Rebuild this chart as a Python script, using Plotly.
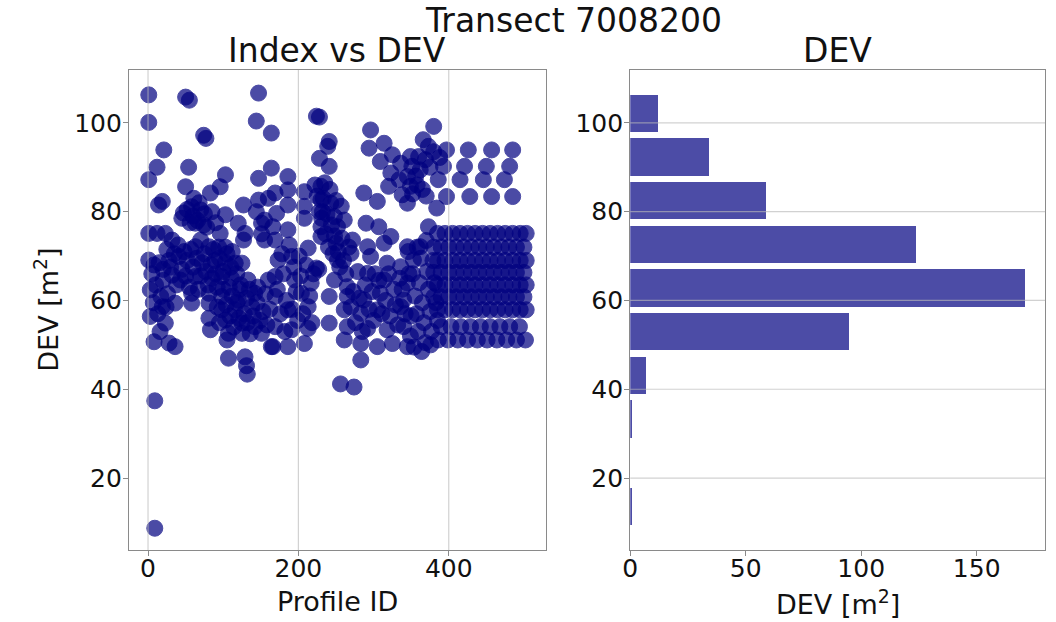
import plotly.graph_objects as go

# ---------------- data ----------------
# Left panel: (profile id, DEV) points, grouped by region of the plot
points_0_165 = [
    (1, 106.3), (50, 105.8), (55, 105.1), (147, 106.7), (1, 100.1), (144, 100.4),
    (74, 97.2), (77, 96.5), (164, 97.7), (21, 93.9), (12, 90.0), (54, 90.0), (164, 89.8),
    (103, 88.3), (1, 87.2), (147, 87.5), (50, 85.6), (96, 85.6), (83, 84.2),
    (19, 82.3), (14, 81.5), (61, 83.0), (127, 81.5), (147, 82.6), (160, 83.0),
    (47, 79.7), (58, 81.1), (70, 80.4), (103, 79.3), (144, 80.0), (155, 78.1),
    (63, 77.4), (120, 77.4), (74, 77.0), (151, 77.4),
    (1, 75.1), (12, 75.1), (23, 75.1), (96, 75.1), (129, 75.1), (151, 75.0),
    (127, 73.6), (32, 73.6), (70, 73.6), (155, 73.6),
    (63, 72.1), (81, 72.1), (94, 72.0), (103, 72.0),
    (1, 69.1), (8, 68.0), (28, 69.0), (41, 69.9), (52, 69.0), (72, 68.5), (89, 69.0),
    (103, 68.5), (116, 68.4), (125, 68.4),
    (32, 65.7), (43, 64.6), (63, 65.4), (85, 65.0), (98, 65.4), (111, 65.0), (133, 64.6), (160, 64.6),
    (3, 62.4), (17, 60.9), (58, 61.6), (81, 61.6), (98, 60.9), (120, 60.1), (142, 61.6),
    (19, 58.6), (36, 59.4), (58, 59.4), (81, 59.4), (98, 57.9), (116, 57.9), (138, 58.6),
    (3, 56.4), (23, 54.9), (81, 56.0), (103, 55.6), (125, 54.9), (142, 54.1),
    (83, 53.4), (107, 52.6), (125, 52.6), (151, 52.6),
    (8, 50.7), (28, 50.4), (36, 49.6), (105, 51.1), (164, 49.6),
    (107, 47.0), (129, 47.3), (131, 45.3), (132, 43.4), (9, 37.4), (9, 8.7),
    # dense areas
    (45, 78.5), (52, 80.5), (56, 77.5), (60, 79.0), (66, 78.0), (68, 82.0), (75, 79.5),
    (78, 76.5), (85, 80.0), (90, 77.5),
    (20, 67.0), (25, 71.5), (30, 67.5), (35, 70.5), (38, 63.5), (40, 72.5), (45, 67.0),
    (48, 71.0), (50, 65.5), (55, 63.0), (57, 71.5), (60, 67.5), (65, 69.5), (67, 62.5),
    (70, 65.5), (75, 70.5), (77, 66.5), (80, 63.5), (84, 68.0), (87, 71.5), (90, 66.0),
    (92, 63.0), (95, 69.5), (100, 66.5), (105, 70.5), (108, 63.0), (112, 71.0), (118, 66.0),
    (122, 62.5), (110, 67.5),
    (92, 58.5), (95, 55.0), (100, 62.5), (104, 59.0), (109, 56.5), (112, 61.0), (114, 54.0),
    (118, 59.5), (121, 56.0), (123, 63.5), (128, 57.0), (131, 60.5), (132, 55.0), (135, 62.5),
    (136, 52.5), (140, 56.5), (145, 59.5), (146, 63.0), (149, 55.5), (153, 57.5), (156, 61.5),
    (158, 54.5), (162, 58.0),
    (5, 66.0), (7, 59.5), (10, 63.5), (13, 57.0), (15, 68.5), (16, 53.0), (20, 64.5),
    (24, 58.5), (26, 61.5),
]

points_166_350 = [
    (224, 101.5), (228, 101.3), (296, 98.4),
    (241, 95.8), (294, 94.3), (314, 95.4), (239, 94.7),
    (228, 92.0), (241, 90.2), (309, 91.3), (325, 92.8), (336, 90.9), (349, 92.4),
    (186, 87.9), (323, 88.7), (334, 87.2), (345, 87.9),
    (169, 84.2), (186, 84.9), (208, 84.5), (230, 85.7), (287, 84.2), (320, 85.7), (345, 81.9), (338, 83.8),
    (186, 81.5), (208, 81.2), (230, 82.7), (243, 81.9), (257, 81.2), (305, 82.3),
    (171, 79.6), (208, 78.5), (232, 80.0), (248, 78.9), (261, 78.1),
    (166, 76.6), (186, 75.9), (230, 76.6), (252, 76.6), (290, 77.4), (307, 76.6), (323, 74.4),
    (169, 73.6), (213, 71.8), (230, 74.4), (250, 72.9), (272, 73.6), (292, 72.1), (314, 72.9), (345, 72.1),
    (173, 69.1), (191, 69.9), (224, 67.3), (227, 67.0), (252, 69.1), (270, 70.6), (296, 69.9),
    (318, 68.4), (336, 67.6),
    (169, 65.4), (195, 64.6), (217, 63.9), (248, 64.6), (265, 63.1), (292, 66.1), (314, 64.6), (345, 63.9),
    (169, 60.9), (204, 61.6), (241, 60.9), (265, 60.9), (287, 60.1), (309, 61.6), (340, 60.1),
    (186, 57.9), (213, 58.6), (261, 57.9), (283, 57.1), (305, 57.9), (336, 58.6),
    (169, 54.1), (191, 53.4), (213, 53.7), (241, 54.9), (265, 54.1), (292, 53.7), (318, 53.4), (340, 54.1),
    (166, 49.6), (186, 49.6), (208, 50.3), (261, 51.1), (283, 50.3), (305, 49.6), (325, 50.3), (345, 49.6),
    (283, 46.6), (256, 41.2), (274, 40.5),
    # dense areas
    (222, 86.0), (225, 83.5), (228, 80.0), (231, 78.5), (233, 83.0), (235, 86.5), (236, 75.0),
    (238, 79.5), (240, 72.0), (242, 85.0), (244, 77.0), (246, 70.5), (248, 74.5), (250, 82.5),
    (253, 71.0), (255, 67.5), (258, 74.0), (260, 69.0), (263, 66.0), (267, 72.0),
    (172, 62.5), (176, 57.0), (178, 70.5), (180, 66.0), (182, 53.0), (184, 60.0), (188, 72.5),
    (192, 58.0), (194, 67.5), (197, 62.0), (199, 55.5), (201, 70.0), (203, 65.5), (206, 57.0),
    (210, 68.0), (215, 61.0), (218, 55.0), (220, 66.0),
    (270, 58.5), (273, 62.0), (276, 55.0), (279, 66.5), (281, 60.5), (285, 53.0), (289, 63.5),
    (294, 58.0), (298, 62.0), (300, 55.5), (302, 66.0), (307, 64.5), (311, 57.0), (316, 60.0),
    (320, 66.0), (322, 56.5), (327, 62.5), (329, 59.0), (332, 54.5), (335, 65.0), (338, 62.5),
    (342, 57.0), (347, 66.0), (349, 52.0),
]

points_351_504 = [
    # upper diagonal cluster
    (380, 99.2), (366, 96.2), (373, 94.7), (360, 92.4), (369, 91.7), (380, 93.5), (351, 90.2),
    (362, 89.4), (349, 85.7), (384, 80.8), (373, 76.6), (362, 72.1), (353, 69.1), (356, 88.0),
    (358, 86.0), (365, 85.0), (370, 83.5), (375, 90.0), (352, 84.0), (388, 92.2),
    # upper regular block
    (397, 93.9), (426, 93.9), (457, 93.9), (485, 93.9),
    (393, 90.2), (421, 90.2), (450, 90.2), (481, 90.2),
    (386, 87.2), (415, 87.2), (446, 87.2), (474, 87.2),
    (397, 83.4), (428, 83.4), (457, 83.4), (485, 83.4),
    # dense left part
    (352, 66.0), (355, 61.0), (357, 57.0), (359, 53.0), (361, 64.0), (363, 69.5), (365, 59.5),
    (367, 55.0), (369, 50.5), (371, 66.5), (373, 62.5), (375, 57.5), (377, 53.0), (379, 69.0),
    (381, 64.0), (383, 59.5), (385, 55.5), (354, 49.5), (358, 72.0), (364, 48.5), (370, 73.5),
    (376, 50.0), (350, 56.5), (346, 71.0),
    # lower regular block
    (385, 75.1), (395, 75.1), (405, 75.1), (415, 75.1), (425, 75.1), (435, 75.1), (445, 75.1),
    (455, 75.1), (465, 75.1), (475, 75.1), (485, 75.1), (495, 75.1), (503, 75.1),
    (380, 72.0), (390, 72.0), (400, 72.0), (410, 72.0), (420, 72.0), (430, 72.0), (440, 72.0),
    (450, 72.0), (460, 72.0), (470, 72.0), (480, 72.0), (490, 72.0), (500, 72.0),
    (385, 69.0), (395, 69.0), (405, 69.0), (415, 69.0), (425, 69.0), (435, 69.0), (445, 69.0),
    (455, 69.0), (465, 69.0), (475, 69.0), (485, 69.0), (495, 69.0), (503, 69.0),
    (380, 66.3), (390, 66.3), (400, 66.3), (410, 66.3), (420, 66.3), (430, 66.3), (440, 66.3),
    (450, 66.3), (460, 66.3), (470, 66.3), (480, 66.3), (490, 66.3), (500, 66.3),
    (385, 63.5), (395, 63.5), (405, 63.5), (415, 63.5), (425, 63.5), (435, 63.5), (445, 63.5),
    (455, 63.5), (465, 63.5), (475, 63.5), (485, 63.5), (495, 63.5), (503, 63.5),
    (380, 60.8), (390, 60.8), (400, 60.8), (410, 60.8), (420, 60.8), (430, 60.8), (440, 60.8),
    (450, 60.8), (460, 60.8), (470, 60.8), (480, 60.8), (490, 60.8), (500, 60.8),
    (385, 57.9), (395, 57.9), (405, 57.9), (415, 57.9), (425, 57.9), (435, 57.9), (445, 57.9),
    (455, 57.9), (465, 57.9), (475, 57.9), (485, 57.9), (495, 57.9), (503, 57.9),
    (390, 54.1), (403, 54.1), (416, 54.1), (429, 54.1), (442, 54.1), (455, 54.1), (468, 54.1),
    (481, 54.1), (494, 54.1),
    (386, 51.1), (399, 51.1), (412, 51.1), (425, 51.1), (438, 51.1), (451, 51.1), (464, 51.1),
    (477, 51.1), (490, 51.1), (502, 51.1),
]

# Right panel: histogram of DEV (bin centres and counts)
dev_bin_centers = [13.6, 23.5, 33.3, 43.1, 53.0, 62.8, 72.6, 82.5, 92.3, 102.1]
dev_counts = [1, 0, 1, 7, 95, 171, 124, 59, 34, 12]

y_ticks = [20, 40, 60, 80, 100]
x1_ticks = [0, 200, 400]
x2_ticks = [0, 50, 100, 150]

# ---------------- figure ----------------
all_points = points_0_165 + points_166_350 + points_351_504
profile_id = [p[0] for p in all_points]
dev = [p[1] for p in all_points]

W, H = 1056, 622
FONT = "DejaVu Sans"
NAVY = "#000080"
FRAME = "#8a8a8a"
GRID = "rgba(185,185,185,0.65)"

def px(x):
    return x / W

def py(y):
    return 1 - y / H

fig = go.Figure()
fig.add_trace(go.Scatter(
    x=profile_id, y=dev, mode="markers",
    marker=dict(color=NAVY, opacity=0.7, size=16, line=dict(color=NAVY, width=1)),
    xaxis="x", yaxis="y", showlegend=False, hoverinfo="skip",
))
fig.add_trace(go.Bar(
    x=dev_counts, y=dev_bin_centers, orientation="h", width=8.35,
    marker=dict(color=NAVY, opacity=0.7, line=dict(width=0)),
    xaxis="x2", yaxis="y2", showlegend=False,
))

axis_common = dict(
    showline=True, mirror=True, linecolor=FRAME, linewidth=1.3,
    ticks="outside", ticklen=5, tickwidth=1.2, tickcolor=FRAME,
    tickfont=dict(family=FONT, size=25, color="#111111"),
    showgrid=False, zeroline=False, layer="above traces",
)
ydom = [py(550), py(70)]
fig.update_layout(
    width=W, height=H, margin=dict(l=0, r=0, t=0, b=0),
    paper_bgcolor="white", plot_bgcolor="white",
    bargap=0,
    xaxis=dict(domain=[px(122), px(542)], range=[-25.2, 529.2], tickvals=x1_ticks,
               anchor="y", ticklabelstandoff=-9, **axis_common),
    yaxis=dict(domain=ydom, range=[3.8, 111.9], tickvals=y_ticks,
               anchor="x", ticklabelstandoff=-4, **axis_common),
    xaxis2=dict(domain=[px(627), px(1045)], range=[0, 179.6], tickvals=x2_ticks,
                anchor="y2", ticklabelstandoff=-9, **axis_common),
    yaxis2=dict(domain=ydom, range=[3.8, 111.9], tickvals=y_ticks,
                anchor="x2", ticklabelstandoff=-4, **axis_common),
)

# grid lines drawn above the marks, as in the reference
for v in x1_ticks:
    fig.add_shape(type="line", xref="x", yref="y domain", x0=v, x1=v, y0=0, y1=1,
                  line=dict(color=GRID, width=1.2), layer="above")
for v in y_ticks:
    fig.add_shape(type="line", xref="x2 domain", yref="y2", x0=0, x1=1, y0=v, y1=v,
                  line=dict(color=GRID, width=1.2), layer="above")

def note(text, x, y, size, angle=0):
    fig.add_annotation(text=text, x=px(x), y=py(y), xref="paper", yref="paper",
                       xanchor="center", yanchor="middle", showarrow=False,
                       textangle=angle, font=dict(family=FONT, size=size, color="#111111"))

note("Transect 7008200", 570, 20, 33)
note("Index vs DEV", 332, 51, 33)
note("DEV", 836, 51, 33)
note("Profile ID", 332, 601, 27)
note("DEV [m<sup>2</sup>]", 836, 602, 27)
note("DEV [m<sup>2</sup>]", 38, 310, 27, angle=-90)

fig.write_html("out.html")
